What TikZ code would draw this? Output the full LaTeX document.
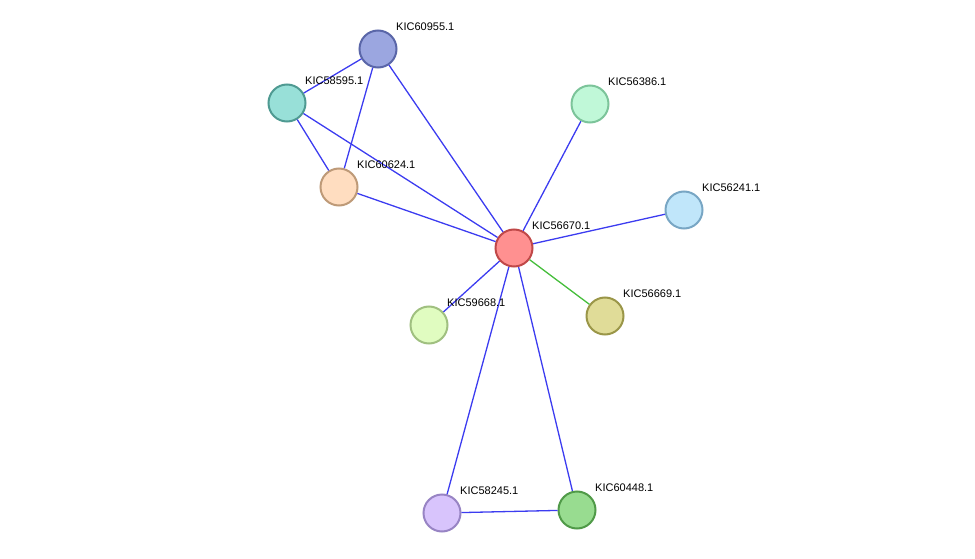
\documentclass[tikz,border=0pt]{standalone}
\usepackage{fontspec}
\setmainfont{Liberation Sans}
\begin{document}
\begin{tikzpicture}[x=1pt,y=-1pt,
  prot/.style={circle,minimum size=37pt,inner sep=0pt,line width=2pt},
  lbl/.style={anchor=west,font=\fontsize{11}{12}\selectfont,inner sep=0pt},
  e/.style={draw={rgb,255:red,60;green,60;blue,240},line width=1.3pt},
  g/.style={draw={rgb,255:red,70;green,190;blue,60},line width=1.3pt}]
\useasboundingbox (0,0) rectangle (975,559);
\node[prot,fill={rgb,255:red,155;green,166;blue,224},draw={rgb,255:red,90;green,102;blue,168}] (a) at (378,49) {};
\node[prot,fill={rgb,255:red,152;green,224;blue,216},draw={rgb,255:red,79;green,154;blue,146}] (b) at (287,103) {};
\node[prot,fill={rgb,255:red,255;green,221;blue,192},draw={rgb,255:red,190;green,154;blue,120}] (c) at (339,187) {};
\node[prot,fill={rgb,255:red,192;green,248;blue,216},draw={rgb,255:red,124;green,196;blue,154}] (d) at (590,104) {};
\node[prot,fill={rgb,255:red,192;green,230;blue,250},draw={rgb,255:red,120;green,166;blue,196}] (f) at (684,210) {};
\node[prot,fill={rgb,255:red,255;green,144;blue,144},draw={rgb,255:red,192;green,72;blue,72}] (m) at (514,248) {};
\node[prot,fill={rgb,255:red,224;green,220;blue,152},draw={rgb,255:red,154;green,150;blue,72}] (h) at (605,316) {};
\node[prot,fill={rgb,255:red,224;green,252;blue,192},draw={rgb,255:red,160;green,192;blue,128}] (i) at (429,325) {};
\node[prot,fill={rgb,255:red,216;green,196;blue,252},draw={rgb,255:red,152;green,132;blue,196}] (j) at (442,513) {};
\node[prot,fill={rgb,255:red,152;green,220;blue,144},draw={rgb,255:red,80;green,154;blue,72}] (k) at (577,510) {};
\draw[e] (a)--(b); \draw[e] (a)--(c); \draw[e] (a)--(m);
\draw[e] (b)--(c); \draw[e] (b)--(m); \draw[e] (c)--(m);
\draw[e] (d)--(m); \draw[e] (f)--(m); \draw[e] (i)--(m);
\draw[e] (j)--(m); \draw[e] (k)--(m); \draw[e] (j)--(k);
\draw[g] (m)--(h);
\node[lbl] (la) at (396,27) {KIC60955.1};
\node[lbl] (lb) at (305,81) {KIC58595.1};
\node[lbl] (lc) at (357,165) {KIC60624.1};
\node[lbl] (ld) at (608,82) {KIC56386.1};
\node[lbl] (lf) at (702,188) {KIC56241.1};
\node[lbl] (lm) at (532,226) {KIC56670.1};
\node[lbl] (lh) at (623,294) {KIC56669.1};
\node[lbl] (li) at (447,303) {KIC59668.1};
\node[lbl] (lj) at (460,491) {KIC58245.1};
\node[lbl] (lk) at (595,488) {KIC60448.1};
\end{tikzpicture}
\end{document}
